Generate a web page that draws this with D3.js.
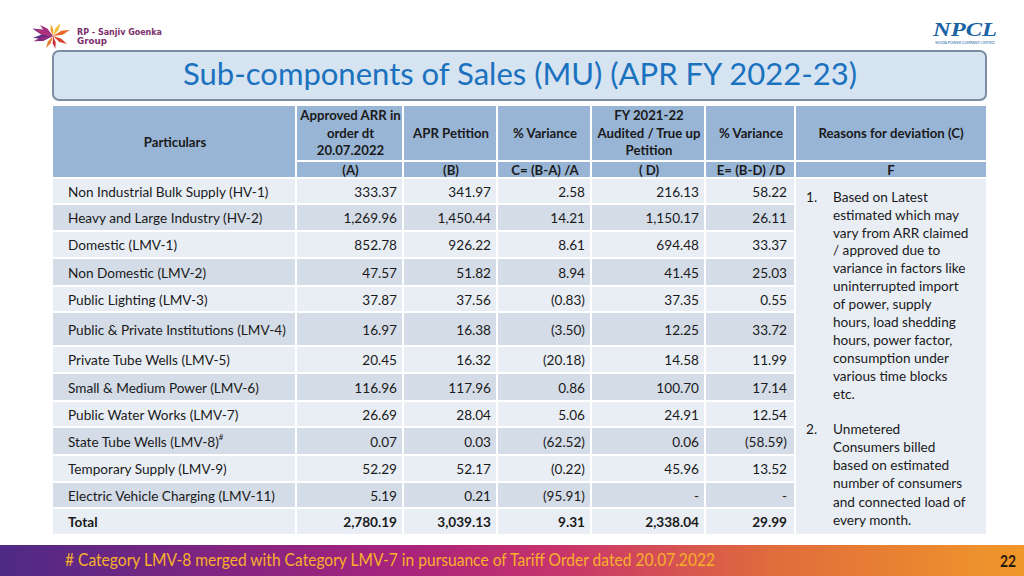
<!DOCTYPE html>
<html><head><meta charset="utf-8">
<script src="https://cdn.jsdelivr.net/npm/d3@7"></script>
<style>html,body{margin:0;padding:0;background:#fff;}svg{display:block;font-family:Lato,"Open Sans",sans-serif;}</style>
</head><body>
<svg id="c" width="1024" height="576"></svg>
<script>
// ---------- DATA ----------
const title = "Sub-components of Sales (MU) (APR FY 2022-23)";
const categories = [
  "Non Industrial Bulk Supply (HV-1)",
  "Heavy and Large Industry (HV-2)",
  "Domestic (LMV-1)",
  "Non Domestic (LMV-2)",
  "Public Lighting (LMV-3)",
  "Public & Private Institutions (LMV-4)",
  "Private Tube Wells (LMV-5)",
  "Small & Medium Power (LMV-6)",
  "Public Water Works (LMV-7)",
  "State Tube Wells (LMV-8)",
  "Temporary Supply (LMV-9)",
  "Electric Vehicle Charging (LMV-11)",
  "Total"
];
const approvedARR = [333.37, 1269.96, 852.78, 47.57, 37.87, 16.97, 20.45, 116.96, 26.69, 0.07, 52.29, 5.19, 2780.19];
const aprPetition = [341.97, 1450.44, 926.22, 51.82, 37.56, 16.38, 16.32, 117.96, 28.04, 0.03, 52.17, 0.21, 3039.13];
const varianceC   = [2.58, 14.21, 8.61, 8.94, -0.83, -3.50, -20.18, 0.86, 5.06, -62.52, -0.22, -95.91, 9.31];
const trueUpD     = [216.13, 1150.17, 694.48, 41.45, 37.35, 12.25, 14.58, 100.70, 24.91, 0.06, 45.96, null, 2338.04];
const varianceE   = [58.22, 26.11, 33.37, 25.03, 0.55, 33.72, 11.99, 17.14, 12.54, -58.59, 13.52, null, 29.99];
const headerTop = [["Particulars"], ["Approved ARR in","order dt","20.07.2022"], ["APR Petition"], ["% Variance"],
                   ["FY 2021-22","Audited / True up","Petition"], ["% Variance"], ["Reasons for deviation (C)"]];
const headerSub = [null, "(A)", "(B)", "C= (B-A) /A", "( D)", "E= (B-D) /D", "F"];
const reasons1 = ["Based on Latest","estimated which may","vary from ARR claimed","/ approved due to","variance in factors like","uninterrupted import","of power, supply","hours, load shedding","hours, power factor,","consumption under","various time blocks","etc."];
const reasons2 = ["Unmetered","Consumers billed","based on estimated","number of consumers","and connected load of","every  month."];
const footnote = "# Category LMV-8 merged with Category LMV-7 in pursuance of Tariff Order dated 20.07.2022";
const pageNo = "22";

// ---------- LAYOUT ----------
const colEdges = [53, 297, 404, 498, 592, 706, 796, 986];
const rowWeights = [26,27,27,28,26,34,27,28,26,28,27,26,27];
const series = [approvedARR, aprPetition, varianceC, trueUpD, varianceE];

const svg = d3.select("#c");
const defs = svg.append("defs");

const g = defs.append("linearGradient").attr("id","foot").attr("x1","0").attr("x2","1").attr("y1","0").attr("y2","0");
[[0,"#4e2a85"],[0.2,"#7e2481"],[0.4,"#a9237c"],[0.55,"#c8356c"],[0.75,"#e06b3c"],[1,"#f0982a"]]
  .forEach(([o,c])=>g.append("stop").attr("offset",o).attr("stop-color",c));

// ---------- LOGOS ----------
const logo = svg.append("g");
const cx=53, cy=36;
const rays = [[-160,22,"#7a2d83"],[-185,20,"#5b2a86"],[-140,17,"#a0307d"],[-100,12,"#e8a030"],[-60,15,"#f3c23a"],[-20,18,"#e9682d"],[30,16,"#d9412b"],[80,13,"#c92f3a"],[120,14,"#e57a2c"],[165,20,"#8c2a7e"],[200,19,"#b3307a"]];
rays.forEach(([a,len,col])=>{
  const r=a*Math.PI/180, w=0.22;
  const p=[[cx,cy],[cx+len*Math.cos(r-w)*0.55,cy+len*Math.sin(r-w)*0.55],[cx+len*Math.cos(r),cy+len*Math.sin(r)],[cx+len*Math.cos(r+w)*0.55,cy+len*Math.sin(r+w)*0.55]];
  logo.append("path").attr("d","M"+p.map(d=>d.join(",")).join("L")+"Z").attr("fill",col);
});
logo.append("text").attr("x",77).attr("y",35).attr("font-family","'DejaVu Sans',sans-serif").attr("font-size",8).attr("font-weight","bold")
  .attr("fill","#7b2f6c").attr("textLength",85).attr("lengthAdjust","spacingAndGlyphs").text("RP - Sanjiv Goenka");
logo.append("text").attr("x",77).attr("y",44).attr("font-family","'DejaVu Sans',sans-serif").attr("font-size",8).attr("font-weight","bold")
  .attr("fill","#7b2f6c").attr("textLength",30).attr("lengthAdjust","spacingAndGlyphs").text("Group");

svg.append("text").attr("x",965).attr("y",36).attr("text-anchor","middle").attr("font-family","'Liberation Serif',serif")
  .attr("font-style","italic").attr("font-weight","bold").attr("font-size",18).attr("fill","#1c63a6").attr("textLength",64).attr("lengthAdjust","spacingAndGlyphs").text("NPCL");
svg.append("text").attr("x",965).attr("y",44).attr("text-anchor","middle").attr("font-size",3.6).attr("fill","#1c63a6").text("NOIDA POWER COMPANY LIMITED");

// ---------- TITLE BOX ----------
svg.append("rect").attr("x",53).attr("y",51).attr("width",933).attr("height",49).attr("rx",6)
  .attr("fill","#d6e3f0").attr("stroke","#7c8da3").attr("stroke-width",2);
const tt = svg.append("text").attr("x",520).attr("y",85).attr("text-anchor","middle")
  .attr("font-family","Lato").attr("font-size",29).attr("fill","#1a72bf").text(title);
const tw = tt.node().getComputedTextLength();
tt.attr("font-size", 29*674/tw);

// ---------- SCALES ----------
const cum = [0]; rowWeights.forEach(w=>cum.push(cum[cum.length-1]+w));
const y = d3.scaleLinear().domain([0, cum[cum.length-1]]).range([179, 536]);
const x = d3.scaleOrdinal().domain(d3.range(colEdges.length)).range(colEdges);
const fmt = d3.format(",.2f");
const fmtV = v => v==null ? "-" : (v<0 ? "("+fmt(-v)+")" : fmt(v));

// ---------- HEADER ----------
const hdr = svg.append("g");
const hFill = "#98b5d6";
const H1top=106, H1bot=160, H2top=162, H2bot=177;
hdr.append("rect").attr("x",x(0)).attr("y",H1top).attr("width",x(1)-x(0)-2).attr("height",H2bot-H1top).attr("fill",hFill);
for(let c=1;c<7;c++){
  const w = x(c+1)-x(c)-(c<6?2:0);
  hdr.append("rect").attr("x",x(c)).attr("y",H1top).attr("width",w).attr("height",H1bot-H1top).attr("fill",hFill);
  hdr.append("rect").attr("x",x(c)).attr("y",H2top).attr("width",w).attr("height",H2bot-H2top).attr("fill",hFill);
}
headerTop.forEach((lines,c)=>{
  const mid = (x(c)+x(c+1))/2;
  const cyy = c===0 ? 142 : 133;
  lines.forEach((t,i)=>{
    hdr.append("text").attr("x",mid).attr("y",cyy+(i-(lines.length-1)/2)*17.5).attr("dy","0.35em")
      .attr("text-anchor","middle").attr("font-size",13.2).attr("font-weight","bold").attr("fill","#1a1a1a").text(t);
  });
});
headerSub.forEach((t,c)=>{
  if(!t) return;
  hdr.append("text").attr("x",(x(c)+x(c+1))/2).attr("y",170).attr("dy","0.35em")
    .attr("text-anchor","middle").attr("font-size",13.2).attr("font-weight","bold").attr("fill","#1a1a1a").text(t);
});

// ---------- BODY ----------
const body = svg.append("g");
const light="#e9eef5", dark="#d4dce7";
categories.forEach((cat,r)=>{
  const y0=y(cum[r]), y1=y(cum[r+1]);
  const fill = r%2===0 ? light : dark;
  for(let c=0;c<6;c++){
    body.append("rect").attr("x",x(c)).attr("y",y0).attr("width",x(c+1)-x(c)-2).attr("height",y1-y0-2).attr("fill",fill);
  }
  const ym=(y0+y1)/2;
  const bold = cat==="Total";
  const t = body.append("text").attr("x",68).attr("y",ym).attr("dy","0.35em").attr("font-size",13.6)
    .attr("font-weight",bold?"bold":"normal").attr("fill","#1a1a1a").text(cat);
  if(r===9) t.append("tspan").attr("font-size",8).attr("dy","-0.8em").text("#");
  series.forEach((s,k)=>{
    body.append("text").attr("x",x(k+2)-(k===4?9:7)).attr("y",ym).attr("dy","0.35em").attr("text-anchor","end")
      .attr("font-size",13.6).attr("font-weight",bold?"bold":"normal").attr("fill","#1a1a1a").text(fmtV(s[r]));
  });
});
body.append("rect").attr("x",x(6)).attr("y",y(0)).attr("width",x(7)-x(6)).attr("height",y(cum[cum.length-1])-y(0)-2).attr("fill",light);
const rg = body.append("g").attr("font-size",13.6).attr("fill","#1a1a1a");
rg.append("text").attr("x",806).attr("y",197).attr("dy","0.35em").text("1.");
reasons1.forEach((t,i)=>rg.append("text").attr("x",833).attr("y",197+i*17.9).attr("dy","0.35em").text(t));
rg.append("text").attr("x",806).attr("y",429).attr("dy","0.35em").text("2.");
reasons2.forEach((t,i)=>rg.append("text").attr("x",833).attr("y",429+i*18.2).attr("dy","0.35em").text(t));

// ---------- FOOTER ----------
svg.append("rect").attr("x",0).attr("y",545).attr("width",1024).attr("height",31).attr("fill","url(#foot)");
svg.append("text").attr("x",65).attr("y",560).attr("dy","0.35em").attr("font-size",16.5).attr("fill","#f7b02c")
  .attr("textLength",650).attr("lengthAdjust","spacingAndGlyphs").text(footnote);
svg.append("text").attr("x",1016).attr("y",561).attr("dy","0.35em").attr("text-anchor","end").attr("font-size",17)
  .attr("font-weight","bold").attr("fill","#2a1a10").attr("textLength",16).attr("lengthAdjust","spacingAndGlyphs").text(pageNo);
</script>
</body></html>
